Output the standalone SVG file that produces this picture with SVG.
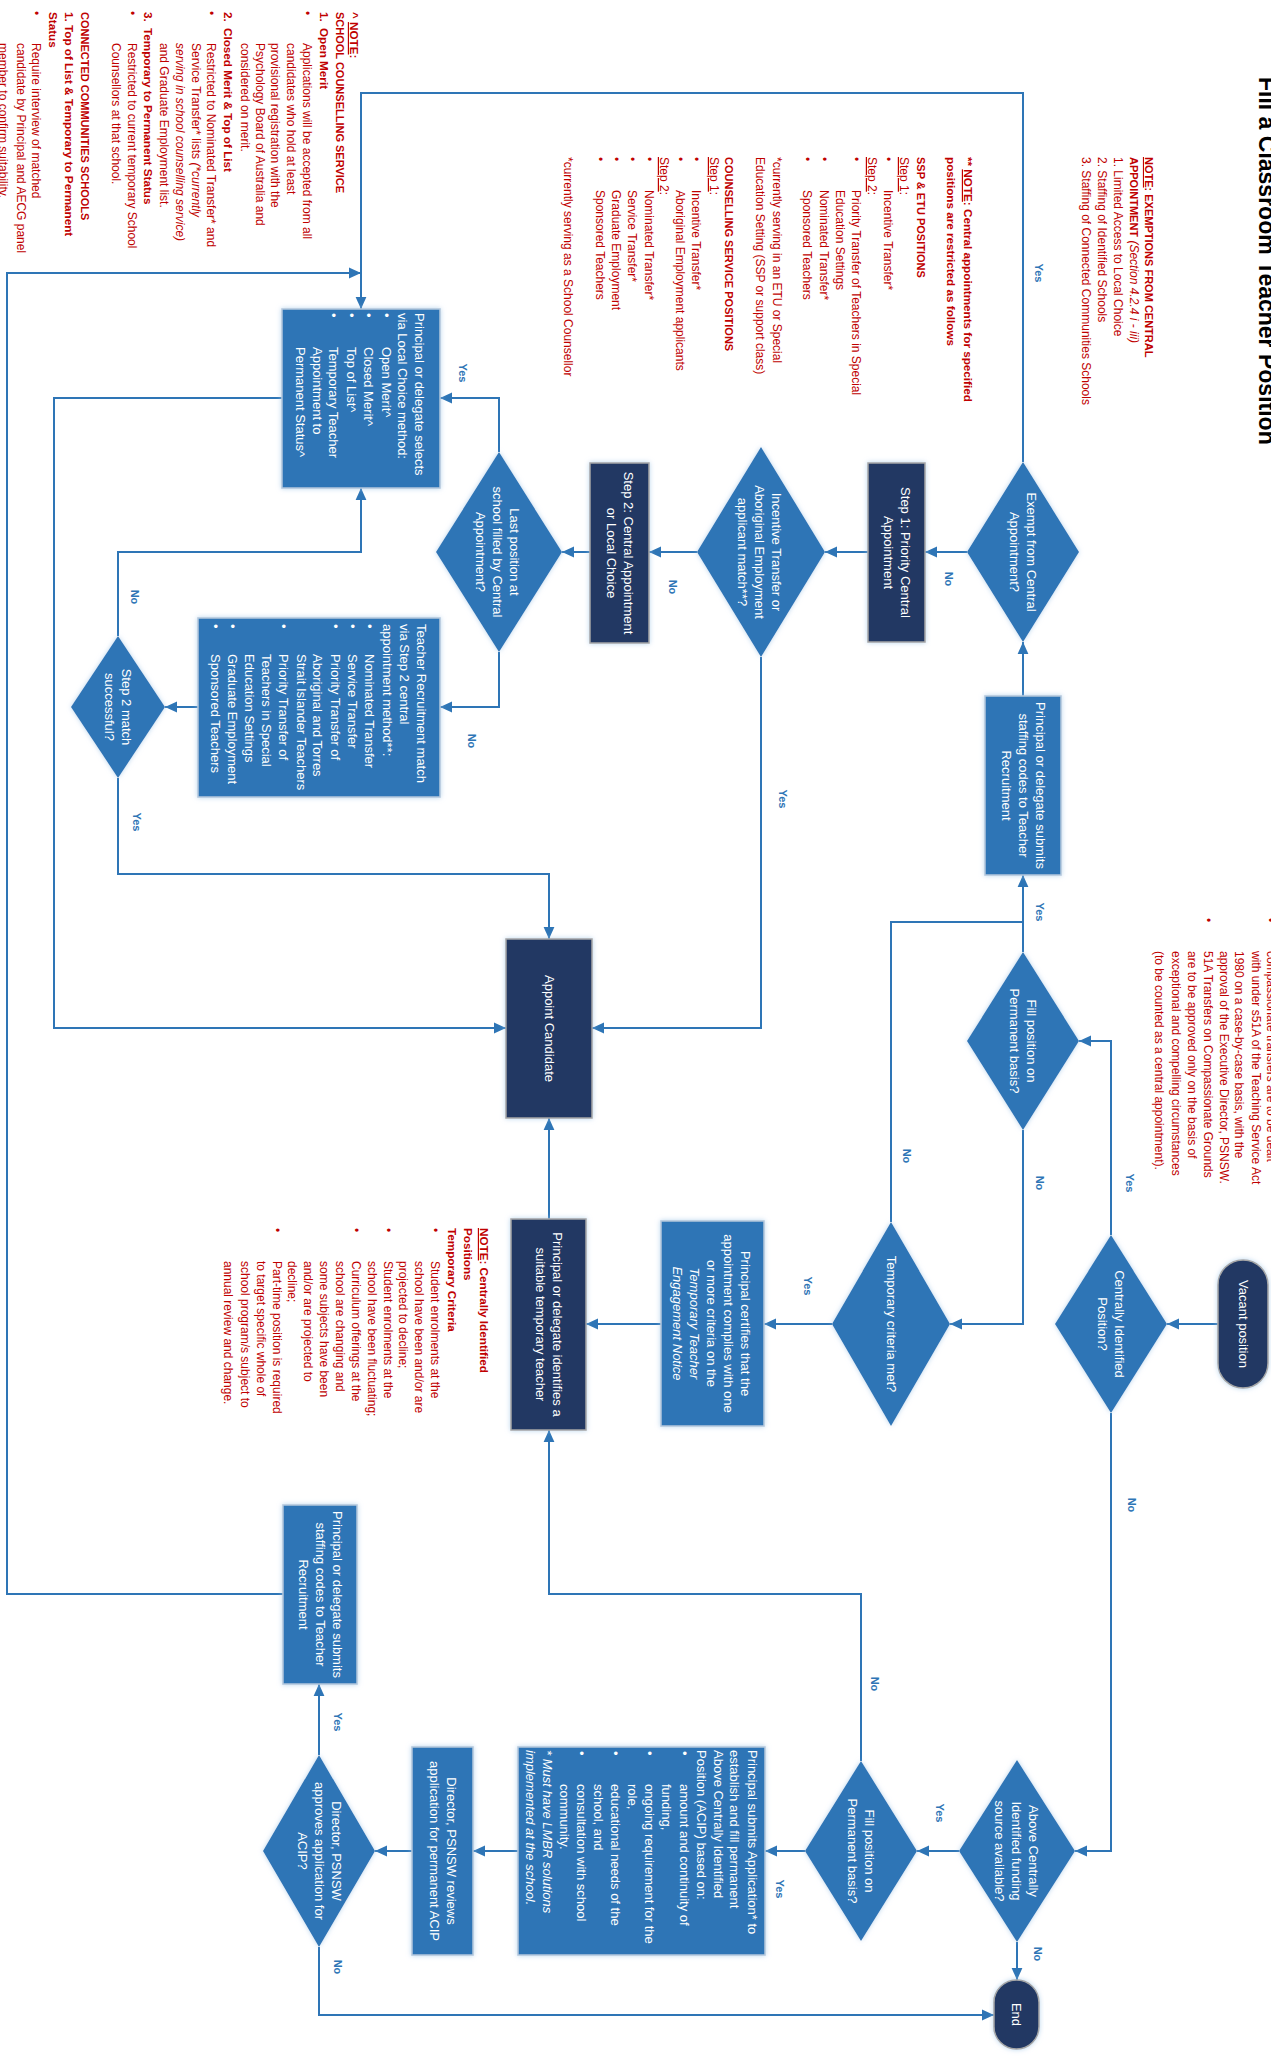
<svg xmlns="http://www.w3.org/2000/svg" width="1271" height="2056" viewBox="0 0 1271 2056">
<defs>
<style>
.t{font-family:"Liberation Sans",Arial,sans-serif;font-size:13px;fill:#fff}
.m{text-anchor:middle}
.it{font-style:italic}
.bx{fill:#2E75B6;stroke:#B4C7DC;stroke-width:1.5}
.nv{fill:#203864;stroke:#A6A6A6;stroke-width:1.5}
.dm{fill:#2E75B6}
.cn path{fill:none;stroke:#2E75B6;stroke-width:2}
.a{marker-end:url(#ar)}
.lb{font-family:"Liberation Sans",Arial,sans-serif;font-size:11px;font-weight:bold;fill:#2E75B6;text-anchor:middle}
.r{font-family:"Liberation Sans",Arial,sans-serif;font-size:12px;fill:#C00000}
.h{font-size:11px;font-weight:bold}
.bb{font-size:11.7px;font-weight:bold}
.u{text-decoration:underline}
.sh{filter:url(#sh)}
</style>
<marker id="ar" viewBox="0 0 10 10" refX="10" refY="5" markerWidth="12" markerHeight="12" markerUnits="userSpaceOnUse" orient="auto"><path d="M0,0.5L10,5L0,9.5z" fill="#2E75B6"/></marker>
<filter id="sh" x="-10%" y="-10%" width="120%" height="120%"><feDropShadow dx="0" dy="0" stdDeviation="2.5" flood-color="#9DC3E6" flood-opacity="0.7"/></filter>
</defs>
<rect width="1271" height="2056" fill="#fff"/>
<g transform="translate(1271 0) rotate(90)">

<text id="title" x="77" y="12" style="font-family:'Liberation Sans',Arial,sans-serif;font-size:23px;font-weight:bold;fill:#000">Fill a Classroom Teacher Position</text>

<g id="connectors" class="cn">
<path class="a" d="M1324,53L1324,104"/>
<path class="a" d="M1235,160L1041,160L1041,192"/>
<path class="a" d="M1413,160L1851,160L1851,196"/>
<path class="a" d="M952,248L875,248"/>
<path class="a" d="M1130,248L1324,248L1324,321"/>
<path d="M1222,380L922,380L922,248"/>
<path class="a" d="M1324,439L1324,507"/>
<path class="a" d="M1324,610L1324,685"/>
<path class="a" d="M1219,722L1118,722"/>
<path class="a" d="M696,248L642,248"/>
<path class="a" d="M462,248L93,248L93,910L309,910"/>
<path class="a" d="M552,304L552,346"/>
<path class="a" d="M552,403L552,446"/>
<path class="a" d="M552,574L552,622"/>
<path class="a" d="M657,510L1028,510L1028,679"/>
<path class="a" d="M552,681L552,709"/>
<path class="a" d="M452,772L398,772L398,831"/>
<path class="a" d="M652,772L707,772L707,831"/>
<path class="a" d="M707,1073L707,1106"/>
<path class="a" d="M636,1153L552,1153L552,910L488,910"/>
<path class="a" d="M778,1153L874,1153L874,722L939,722"/>
<path class="a" d="M398,989L398,1217L1028,1217L1028,765"/>
<path class="a" d="M1594,988L1594,1264L273,1264L273,910"/>
<path class="a" d="M1761,410L1594,410L1594,722L1430,722"/>
<path class="a" d="M1851,312L1851,354"/>
<path class="a" d="M1942,254L1980,254"/>
<path class="a" d="M1851,466L1851,506"/>
<path class="a" d="M1851,753L1851,798"/>
<path class="a" d="M1851,859L1851,896"/>
<path class="a" d="M1755,952L1684,952"/>
<path class="a" d="M1947,952L2015,952L2015,277"/>
<text class="lb" x="273" y="236">Yes</text>
<text class="lb" x="579" y="326">No</text>
<text class="lb" x="587" y="602">No</text>
<text class="lb" x="799" y="492">Yes</text>
<text class="lb" x="373" y="812">Yes</text>
<text class="lb" x="741" y="803">No</text>
<text class="lb" x="597" y="1140">No</text>
<text class="lb" x="822" y="1138">Yes</text>
<text class="lb" x="912" y="235">Yes</text>
<text class="lb" x="1183" y="235">No</text>
<text class="lb" x="1183" y="145">Yes</text>
<text class="lb" x="1505" y="143">No</text>
<text class="lb" x="1156" y="368">No</text>
<text class="lb" x="1286" y="467">Yes</text>
<text class="lb" x="1684" y="400">No</text>
<text class="lb" x="1813" y="335">Yes</text>
<text class="lb" x="1954" y="237">No</text>
<text class="lb" x="1889" y="495">Yes</text>
<text class="lb" x="1722" y="937">Yes</text>
<text class="lb" x="1967" y="937">No</text>
</g>

<g id="vacant-position">
<rect class="nv sh" x="1260" y="3" width="128" height="50" rx="25"/>
<text class="t m" x="1324" y="32.5">Vacant position</text>
</g>
<g id="centrally-identified">
<polygon class="dm sh" points="1235,160 1324,104 1413,160 1324,216"/>
<text class="t m" x="1324" y="156">Centrally Identified</text>
<text class="t m" x="1324" y="173">Position?</text>
</g>
<g id="fill-permanent-1">
<polygon class="dm sh" points="952,248 1041,192 1130,248 1041,304"/>
<text class="t m" x="1041" y="244">Fill position on</text>
<text class="t m" x="1041" y="261">Permanent basis?</text>
</g>
<g id="temporary-criteria">
<polygon class="dm sh" points="1222,380 1324,321 1426,380 1324,439"/>
<text class="t m" x="1324" y="384.5">Temporary criteria met?</text>
</g>
<g id="principal-certifies">
<rect class="bx sh" x="1221" y="507" width="205" height="103"/>
<text class="t m" x="1323.5" y="530">Principal certifies that the</text>
<text class="t m" x="1323.5" y="547">appointment complies with one</text>
<text class="t m" x="1323.5" y="564">or more criteria on the</text>
<text class="t m it" x="1323.5" y="581">Temporary Teacher</text>
<text class="t m it" x="1323.5" y="598">Engagement Notice</text>
</g>
<g id="principal-identifies">
<rect class="nv sh" x="1219" y="685" width="211" height="75"/>
<text class="t m" x="1324.5" y="718.5">Principal or delegate identifies a</text>
<text class="t m" x="1324.5" y="735.5">suitable temporary teacher</text>
</g>
<g id="appoint-candidate">
<rect class="nv sh" x="939" y="679" width="179" height="86"/>
<text class="t m" x="1028.5" y="726.5">Appoint Candidate</text>
</g>
<g id="submits-codes-1">
<rect class="bx sh" x="696" y="210" width="179" height="76"/>
<text class="t m" x="785.5" y="235">Principal or delegate submits</text>
<text class="t m" x="785.5" y="252">staffing codes to Teacher</text>
<text class="t m" x="785.5" y="269">Recruitment</text>
</g>
<g id="exempt">
<polygon class="dm sh" points="462,248 552,192 642,248 552,304"/>
<text class="t m" x="552" y="244">Exempt from Central</text>
<text class="t m" x="552" y="261">Appointment?</text>
</g>
<g id="step1">
<rect class="nv sh" x="463" y="346" width="179" height="57"/>
<text class="t m" x="552.5" y="370.5">Step 1: Priority Central</text>
<text class="t m" x="552.5" y="387.5">Appointment</text>
</g>
<g id="incentive">
<polygon class="dm sh" points="447,510 552,446 657,510 552,574"/>
<text class="t m" x="552" y="499.5">Incentive Transfer or</text>
<text class="t m" x="552" y="516.5">Aboriginal Employment</text>
<text class="t m" x="552" y="533.5">applicant match**?</text>
</g>
<g id="step2">
<rect class="nv sh" x="463" y="622" width="180" height="59"/>
<text class="t m" x="553" y="647.5">Step 2: Central Appointment</text>
<text class="t m" x="553" y="664.5">or Local Choice</text>
</g>
<g id="last-position">
<polygon class="dm sh" points="452,772 552,709 652,772 552,835"/>
<text class="t m" x="552" y="761">Last position at</text>
<text class="t m" x="552" y="778">school filled by Central</text>
<text class="t m" x="552" y="795">Appointment?</text>
</g>
<g id="local-choice">
<rect class="bx sh" x="309" y="831" width="179" height="158"/>
<text class="t" x="313" y="856">Principal or delegate selects</text>
<text class="t" x="313" y="873">via Local Choice method:</text>
<text class="t" x="313" y="889">•</text><text class="t" x="347" y="889">Open Merit^</text>
<text class="t" x="313" y="907">•</text><text class="t" x="347" y="907">Closed Merit^</text>
<text class="t" x="313" y="924">•</text><text class="t" x="347" y="924">Top of List^</text>
<text class="t" x="313" y="942">•</text><text class="t" x="347" y="942">Temporary Teacher</text>
<text class="t" x="347" y="958">Appointment to</text>
<text class="t" x="347" y="975">Permanent Status^</text>
</g>
<g id="recruitment-match">
<rect class="bx sh" x="618" y="831" width="179" height="242"/>
<text class="t" x="624" y="854">Teacher Recruitment match</text>
<text class="t" x="624" y="871">via Step 2 central</text>
<text class="t" x="624" y="888">appointment method**:</text>
<text class="t" x="624" y="906">•</text><text class="t" x="654" y="906">Nominated Transfer</text>
<text class="t" x="624" y="923">•</text><text class="t" x="654" y="923">Service Transfer</text>
<text class="t" x="624" y="940">•</text><text class="t" x="654" y="940">Priority Transfer of</text>
<text class="t" x="654" y="958">Aboriginal and Torres</text>
<text class="t" x="654" y="974">Strait Islander Teachers</text>
<text class="t" x="624" y="992">•</text><text class="t" x="654" y="992">Priority Transfer of</text>
<text class="t" x="654" y="1009">Teachers in Special</text>
<text class="t" x="654" y="1026">Education Settings</text>
<text class="t" x="624" y="1043">•</text><text class="t" x="654" y="1043">Graduate Employment</text>
<text class="t" x="624" y="1060">•</text><text class="t" x="654" y="1060">Sponsored Teachers</text>
</g>
<g id="step2-match">
<polygon class="dm sh" points="636,1153 707,1106 778,1153 707,1200"/>
<text class="t m" x="707" y="1149">Step 2 match</text>
<text class="t m" x="707" y="1166">successful?</text>
</g>
<g id="submits-codes-2">
<rect class="bx sh" x="1505" y="914" width="179" height="74"/>
<text class="t m" x="1594.5" y="938.5">Principal or delegate submits</text>
<text class="t m" x="1594.5" y="955.5">staffing codes to Teacher</text>
<text class="t m" x="1594.5" y="972.5">Recruitment</text>
</g>
<g id="director-approves">
<polygon class="dm sh" points="1755,952 1851,896 1947,952 1851,1008"/>
<text class="t m" x="1851" y="939.5">Director, PSNSW</text>
<text class="t m" x="1851" y="956.5">approves application for</text>
<text class="t m" x="1851" y="973.5">ACIP?</text>
</g>
<g id="director-reviews">
<rect class="bx sh" x="1747" y="798" width="208" height="61"/>
<text class="t m" x="1851" y="824.5">Director, PSNSW reviews</text>
<text class="t m" x="1851" y="841.5">application for permanent ACIP</text>
</g>
<g id="acip-application">
<rect class="bx sh" x="1747" y="506" width="208" height="247"/>
<text class="t" x="1750" y="523">Principal submits Application* to</text>
<text class="t" x="1750" y="541">establish and fill permanent</text>
<text class="t" x="1750" y="557">Above Centrally Identified</text>
<text class="t" x="1750" y="574">Position (ACIP) based on:</text>
<text class="t" x="1751" y="591">•</text><text class="t" x="1784" y="591">amount and continuity of</text>
<text class="t" x="1784" y="609">funding,</text>
<text class="t" x="1751" y="626">•</text><text class="t" x="1784" y="626">ongoing requirement for the</text>
<text class="t" x="1784" y="643">role,</text>
<text class="t" x="1751" y="660">•</text><text class="t" x="1784" y="660">educational needs of the</text>
<text class="t" x="1784" y="677">school, and</text>
<text class="t" x="1751" y="694">•</text><text class="t" x="1784" y="694">consultation with school</text>
<text class="t" x="1784" y="711">community.</text>
<text class="t it" x="1750" y="728">* Must have LMBR solutions</text>
<text class="t it" x="1750" y="745">implemented at the school.</text>
</g>
<g id="fill-permanent-2">
<polygon class="dm sh" points="1761,410 1851,354 1941,410 1851,466"/>
<text class="t m" x="1851" y="406">Fill position on</text>
<text class="t m" x="1851" y="423">Permanent basis?</text>
</g>
<g id="above-centrally">
<polygon class="dm sh" points="1760,254 1851,196 1942,254 1851,312"/>
<text class="t m" x="1851" y="242">Above Centrally</text>
<text class="t m" x="1851" y="259">Identified funding</text>
<text class="t m" x="1851" y="276">source available?</text>
</g>
<g id="end">
<rect class="nv sh" x="1980" y="232" width="69" height="45" rx="22.5"/>
<text class="t m" x="2014.5" y="259">End</text>
</g>

<g id="note-exemptions" class="r">
<text x="157" y="126" class="h"><tspan class="u">NOTE</tspan>: EXEMPTIONS FROM CENTRAL</text>
<text x="157" y="141"><tspan class="h">APPOINTMENT</tspan><tspan class="it"> (Section 4.2.4 i - iii)</tspan></text>
<text x="157" y="157">1. Limited Access to Local Choice</text>
<text x="157" y="173">2. Staffing of Identified Schools</text>
<text x="157" y="189">3. Staffing of Connected Communities Schools</text>
</g>

<g id="note-central-restrictions" class="r">
<text x="157" y="307" class="bb">** <tspan class="u">NOTE</tspan>: Central appointments for specified</text>
<text x="157" y="324" class="bb">positions are restricted as follows</text>
<text x="157" y="354" class="h">SSP &amp; ETU POSITIONS</text>
<text x="157" y="371"><tspan class="u">Step 1</tspan>:</text>
<text x="157" y="387">•</text><text x="190" y="387">Incentive Transfer*</text>
<text x="157" y="403"><tspan class="u">Step 2</tspan>:</text>
<text x="157" y="419">•</text><text x="190" y="419">Priority Transfer of Teachers in Special</text>
<text x="190" y="435">Education Settings</text>
<text x="157" y="451">•</text><text x="190" y="451">Nominated Transfer*</text>
<text x="157" y="468">•</text><text x="190" y="468">Sponsored Teachers</text>
<text x="157" y="498">*currently serving in an ETU or Special</text>
<text x="157" y="515">Education Setting (SSP or support class)</text>
<text x="157" y="546" class="h">COUNSELLING SERVICE POSITIONS</text>
<text x="157" y="561"><tspan class="u">Step 1</tspan>:</text>
<text x="157" y="579">•</text><text x="190" y="579">Incentive Transfer*</text>
<text x="157" y="595">•</text><text x="190" y="595">Aboriginal Employment applicants</text>
<text x="157" y="611"><tspan class="u">Step 2</tspan>:</text>
<text x="157" y="626">•</text><text x="190" y="626">Nominated Transfer*</text>
<text x="157" y="643">•</text><text x="190" y="643">Service Transfer*</text>
<text x="157" y="659">•</text><text x="190" y="659">Graduate Employment</text>
<text x="157" y="675">•</text><text x="190" y="675">Sponsored Teachers</text>
<text x="157" y="707">*currently serving as a School Counsellor</text>
</g>

<g id="note-school-counselling" class="r">
<text x="12" y="921" class="bb">^ <tspan class="u">NOTE</tspan>:</text>
<text x="12" y="935" class="h">SCHOOL COUNSELLING SERVICE</text>
<text x="12" y="951" class="bb">1.</text><text x="28" y="951" class="bb">Open Merit</text>
<text x="11" y="968">•</text><text x="43" y="968">Applications will be accepted from all</text>
<text x="43" y="984">candidates who hold at least</text>
<text x="43" y="1000">provisional registration with the</text>
<text x="43" y="1015">Psychology Board of Australia and</text>
<text x="43" y="1030">considered on merit.</text>
<text x="12" y="1047" class="bb">2.</text><text x="28" y="1047" class="bb">Closed Merit &amp; Top of List</text>
<text x="11" y="1064">•</text><text x="43" y="1064">Restricted to Nominated Transfer* and</text>
<text x="43" y="1079">Service Transfer* lists <tspan class="it">(*currently</tspan></text>
<text x="43" y="1095" class="it">serving in school counselling service)</text>
<text x="43" y="1111">and Graduate Employment list.</text>
<text x="12" y="1127" class="bb">3.</text><text x="28" y="1127" class="bb">Temporary to Permanent Status</text>
<text x="11" y="1143">•</text><text x="43" y="1143">Restricted to current temporary School</text>
<text x="43" y="1159">Counsellors at that school.</text>
<text x="12" y="1190" class="h">CONNECTED COMMUNITIES SCHOOLS</text>
<text x="12" y="1206" class="bb">1. Top of List &amp; Temporary to Permanent</text>
<text x="12" y="1222" class="bb">Status</text>
<text x="11" y="1239">•</text><text x="43" y="1239">Require interview of matched</text>
<text x="43" y="1254">candidate by Principal and AECG panel</text>
<text x="43" y="1272">member to confirm suitability.</text>
</g>

<g id="note-centrally-identified" class="r">
<text x="1228" y="791" class="bb"><tspan class="u">NOTE</tspan>: Centrally Identified</text>
<text x="1228" y="807" class="bb">Positions</text>
<text x="1228" y="823" class="bb">Temporary Criteria</text>
<text x="1228" y="840">•</text><text x="1261" y="840">Student enrolments at the</text>
<text x="1261" y="856">school have been and/or are</text>
<text x="1261" y="872">projected to decline;</text>
<text x="1228" y="887">•</text><text x="1261" y="887">Student enrolments at the</text>
<text x="1261" y="903">school have been fluctuating;</text>
<text x="1228" y="919">•</text><text x="1261" y="919">Curriculum offerings at the</text>
<text x="1261" y="935">school are changing and</text>
<text x="1261" y="951">some subjects have been</text>
<text x="1261" y="967">and/or are projected to</text>
<text x="1261" y="983">decline;</text>
<text x="1228" y="998">•</text><text x="1261" y="998">Part-time position is required</text>
<text x="1261" y="1014">to target specific whole of</text>
<text x="1261" y="1030">school program/s  subject to</text>
<text x="1261" y="1047">annual review and change.</text>
</g>

<g id="note-compassionate" class="r">
<text x="918" y="5">•</text><text x="951" y="4">compassionate transfers are to be dealt</text>
<text x="951" y="19">with under s51A of the Teaching Service Act</text>
<text x="951" y="36">1980 on a case-by-case basis, with the</text>
<text x="951" y="51">approval of the Executive Director, PSNSW.</text>
<text x="918" y="67">•</text><text x="951" y="67">51A Transfers on Compassionate Grounds</text>
<text x="951" y="83">are to be approved only on the basis of</text>
<text x="951" y="99">exceptional and compelling circumstances</text>
<text x="951" y="116">(to be counted as a central appointment).</text>
</g>

</g>
</svg>
